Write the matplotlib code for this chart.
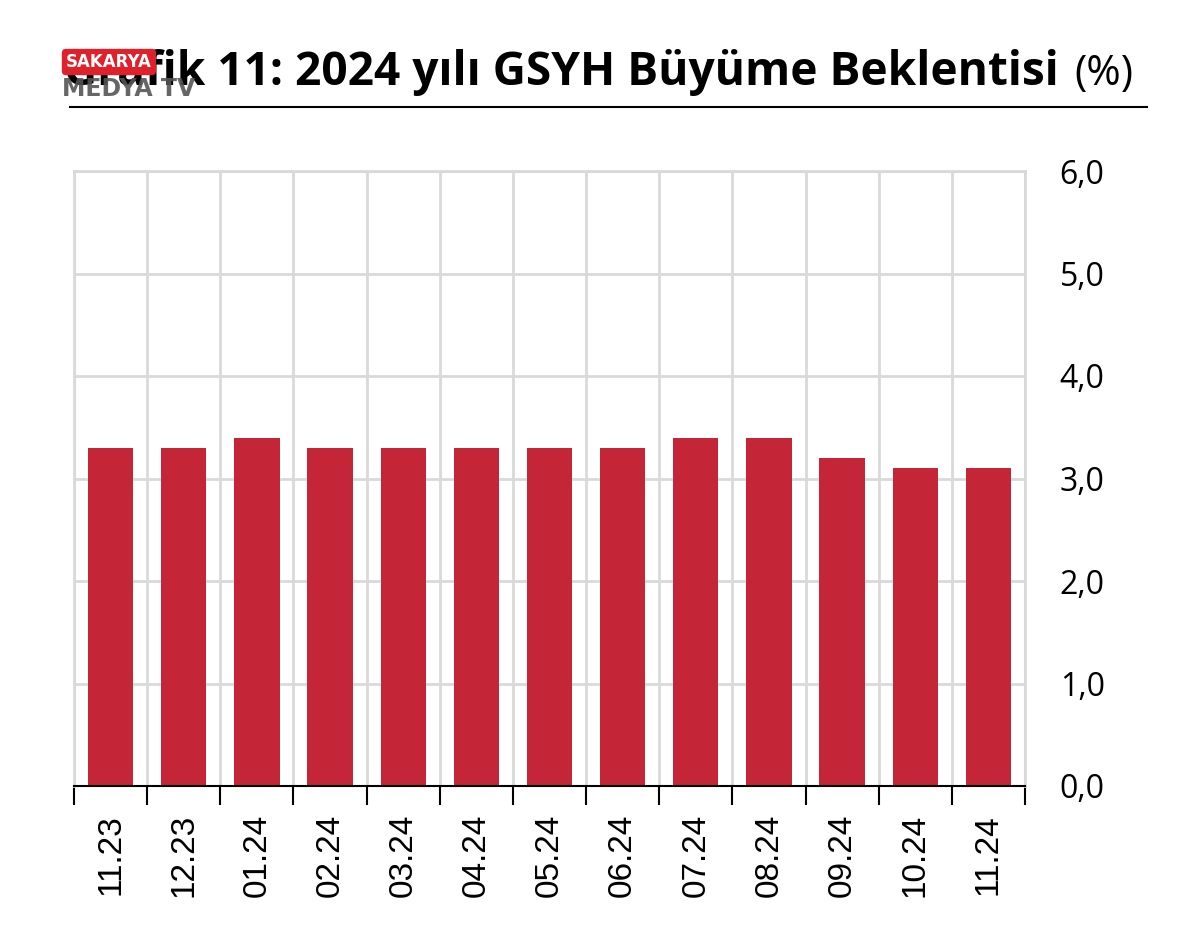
import numpy as np
import matplotlib.pyplot as plt
from matplotlib.lines import Line2D

months = ['11.23', '12.23', '01.24', '02.24', '03.24', '04.24', '05.24',
          '06.24', '07.24', '08.24', '09.24', '10.24', '11.24']
growth = [3.3, 3.3, 3.4, 3.3, 3.3, 3.3, 3.3, 3.3, 3.4, 3.4, 3.2, 3.1, 3.1]
yticks = [0, 1, 2, 3, 4, 5, 6]

bar_color = '#C42638'
grid_color = '#D9D9D9'

fig = plt.figure(figsize=(12, 9.43), dpi=100)
ax = fig.add_axes([74/1200, 1 - 786/943, (1025 - 74)/1200, (786 - 171)/943])

x = np.arange(len(months))
ax.bar(x, growth, width=0.62, color=bar_color, zorder=3)

ax.set_xlim(-0.5, len(months) - 0.5)
ax.set_ylim(0, 6)

# boundaries as major ticks (with grid), labels on minor ticks at centres
ax.set_xticks(np.arange(-0.5, len(months)), labels=[])
ax.set_xticks(x, labels=months, minor=True, rotation=90,
              fontsize=24, family='Liberation Sans')
ax.tick_params(axis='x', which='major', length=14, width=1.5, color='black')
ax.tick_params(axis='x', which='minor', length=0, pad=20)

ax.set_yticks(yticks, labels=[('%.1f' % v).replace('.', ',') for v in yticks],
              fontsize=23, family='Open Sans')
ax.yaxis.tick_right()
ax.tick_params(axis='y', length=0, pad=25)

ax.grid(True, which='major', color=grid_color, linewidth=2, zorder=0)
ax.set_axisbelow(True)

for s in ['left', 'right', 'top']:
    ax.spines[s].set_color(grid_color)
    ax.spines[s].set_linewidth(2)
ax.spines['bottom'].set_color('black')
ax.spines['bottom'].set_linewidth(1.5)
ax.spines['bottom'].set_zorder(4)

# title
fig.text(64/1200, 1 - 85/943, 'Grafik 11: 2024 yılı GSYH Büyüme Beklentisi',
         fontsize=33.1, fontweight='bold', family='Open Sans', va='baseline')
fig.text(1074/1200, 1 - 85/943, '(%)', fontsize=30, family='Open Sans',
         va='baseline')
fig.add_artist(Line2D([70/1200, 1147/1200], [1 - 107/943] * 2,
                      color='black', linewidth=1.5))

# watermark (logo overlay on the title)
fig.text(66/1200, 1 - 62/943, 'SAKARYA', fontsize=12, fontweight='bold',
         color='white', family='Liberation Sans Narrow', va='center',
         bbox=dict(boxstyle='round,pad=0.25', fc='#E0202A', ec='none'))
fig.text(62/1200, 1 - 89/943, 'MEDYA TV', fontsize=17, fontweight='bold',
         color='#555555', family='Liberation Sans Narrow', va='center',
         alpha=0.9)

fig.savefig('out.png', dpi=100)
